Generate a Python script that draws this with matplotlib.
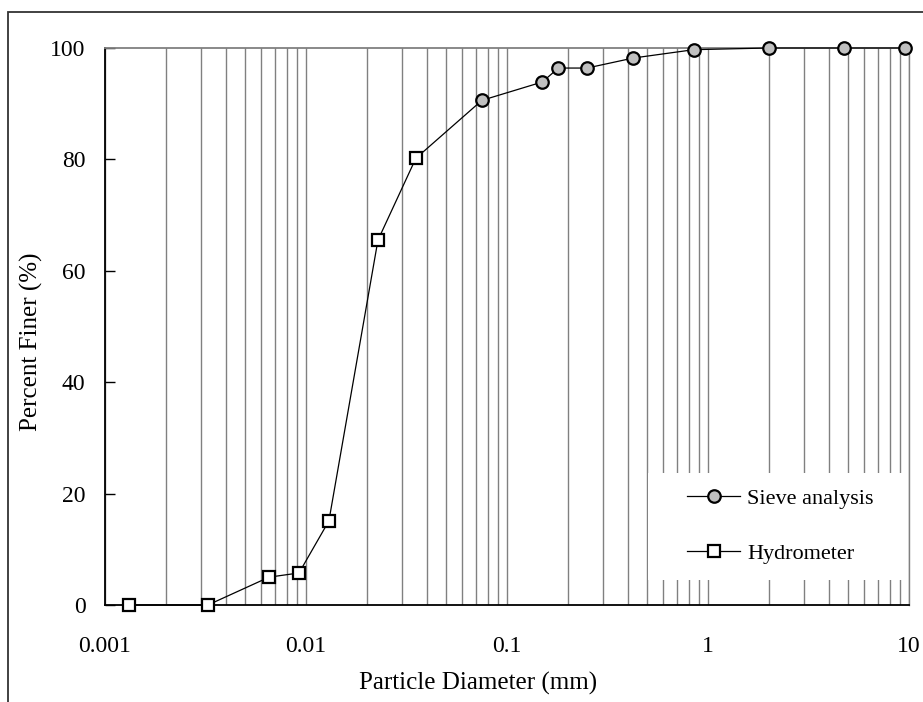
import matplotlib
matplotlib.use("Agg")
import matplotlib.pyplot as plt
from matplotlib.patches import Rectangle
from matplotlib.ticker import LogLocator, NullFormatter, FixedLocator, FixedFormatter

plt.rcParams['font.family'] = ['Liberation Serif', 'DejaVu Serif']
plt.rcParams['ytick.direction'] = 'in'
plt.rcParams['xtick.direction'] = 'in'

# Data
sieve_d = [0.075, 0.15, 0.18, 0.25, 0.425, 0.85, 2.0, 4.75, 9.5]
sieve_p = [90.6, 93.9, 96.4, 96.4, 98.2, 99.7, 100.0, 100.0, 100.0]
hydro_d = [0.00132, 0.00325, 0.00655, 0.00923, 0.0130, 0.0228, 0.0352]
hydro_p = [0.0, 0.0, 5.0, 5.75, 15.1, 65.5, 80.2]
xtick_vals = [0.001, 0.01, 0.1, 1, 10]
xtick_labels = ["0.001", "0.01", "0.1", "1", "10"]
ytick_vals = [0, 20, 40, 60, 80, 100]

FS = 17
LFS = 18
LEGFS = 16

fig = plt.figure(figsize=(9.23, 7.02), dpi=100)
ax = fig.add_axes([105/923, 1-605/702, 804/923, 557/702])

ax.set_xscale('log')
ax.set_xlim(0.001, 10)
ax.set_ylim(0, 100)

# vertical grid
ax.xaxis.set_major_locator(FixedLocator(xtick_vals))
ax.xaxis.set_major_formatter(FixedFormatter(xtick_labels))
ax.xaxis.set_minor_locator(LogLocator(base=10, subs=range(2, 10), numticks=20))
ax.xaxis.set_minor_formatter(NullFormatter())
ax.grid(True, which='both', axis='x', color='#808080', lw=1.0)
ax.set_axisbelow(True)
ax.set_yticks(ytick_vals)
ax.tick_params(axis='x', which='both', direction='in', labelsize=FS, length=0, pad=22)
ax.tick_params(axis='y', which='major', direction='in', labelsize=FS, length=7,
               width=1, color='black', pad=14)

for s in ['left', 'bottom']:
    ax.spines[s].set_color('black')
    ax.spines[s].set_linewidth(1.3)
ax.spines['top'].set_color('#808080')
ax.spines['top'].set_linewidth(1.3)
ax.spines['right'].set_color('#808080')
ax.spines['right'].set_linewidth(1.0)

# connector between series
ax.plot([hydro_d[-1], sieve_d[0]], [hydro_p[-1], sieve_p[0]], color='black', lw=0.9, zorder=3)

ax.plot(sieve_d, sieve_p, color='black', lw=0.9, marker='o', markersize=9,
        markerfacecolor='#c0c0c0', markeredgecolor='black', markeredgewidth=1.6,
        label='Sieve analysis', clip_on=False, zorder=4)
ax.plot(hydro_d, hydro_p, color='black', lw=0.9, marker='s', markersize=8.5,
        markerfacecolor='white', markeredgecolor='black', markeredgewidth=1.6,
        label='Hydrometer', clip_on=False, zorder=4)

# white legend area
ax.add_patch(Rectangle(((648-105)/804, (605-580)/557), (909-648)/804 - 0.002, 107/557,
                       transform=ax.transAxes, facecolor='white', edgecolor='none', zorder=2))
leg = ax.legend(loc='center left', bbox_to_anchor=((687-105)/804, (605-526)/557),
                frameon=False, fontsize=LEGFS, handlelength=2.4, handletextpad=0.3,
                labelspacing=1.55, borderpad=0, borderaxespad=0)

ax.set_xlabel('Particle Diameter (mm)', fontsize=LFS)
ax.xaxis.set_label_coords((478-105)/804, -(672-605)/557)
ax.set_ylabel('Percent Finer (%)', fontsize=LFS)
ax.yaxis.set_label_coords(-(105-43)/804, (605-342)/557)

# figure border
fig.patches.append(Rectangle((8/923, -0.05), 1.1, 1.05 - 12/702, transform=fig.transFigure,
                             fill=False, edgecolor='#333333', lw=1.3))

fig.savefig('out.png', dpi=100)
